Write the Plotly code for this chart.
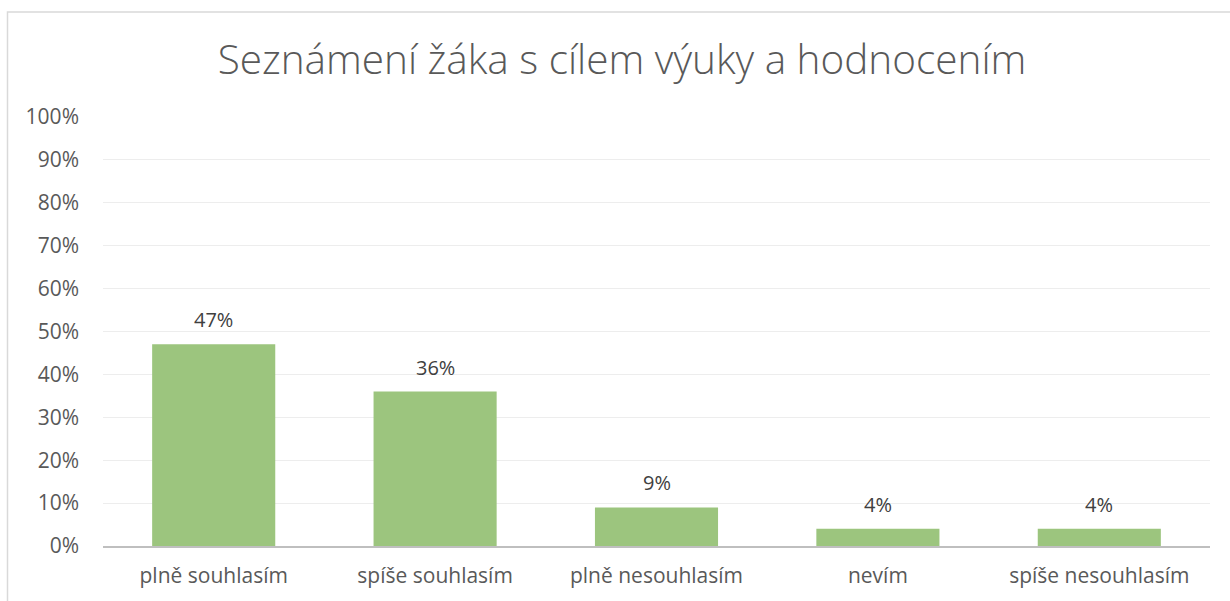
import plotly.graph_objects as go

categories = ["plně souhlasím", "spíše souhlasím", "plně nesouhlasím", "nevím", "spíše nesouhlasím"]
values = [0.47, 0.36, 0.09, 0.04, 0.04]
value_labels = ["47%", "36%", "9%", "4%", "4%"]
tick_values = [i / 10 for i in range(11)]
tick_labels = [f"{i*10}%" for i in range(11)]

FONT = "Open Sans"
bar_color = "#9CC57E"

W, H = 1230, 601
L, R, T, B = 103, 1230 - 1210, 117, 601 - 546
PW, PH = W - L - R, H - T - B

fig = go.Figure()
fig.add_trace(go.Bar(x=categories, y=values, marker=dict(color=bar_color, line=dict(width=0)),
                     width=0.556, hoverinfo="skip"))

for c, v, t in zip(categories, values, value_labels):
    fig.add_annotation(x=c, y=v, text=t, showarrow=False, yanchor="bottom", yshift=9,
                       font=dict(family=FONT, size=20, color="#404040"))

fig.update_layout(
    width=W, height=H,
    margin=dict(l=L, r=R, t=T, b=B),
    paper_bgcolor="white", plot_bgcolor="white",
    showlegend=False,
    title=dict(text="Seznámení žáka s cílem výuky a hodnocením", x=622 / W, xanchor="center",
               y=1 - 60 / H, yanchor="middle",
               font=dict(family=FONT, size=40.5, color="#595959", weight=300)),
    xaxis=dict(showgrid=False, showline=True, linecolor="#BFBFBF", linewidth=2,
               ticks="", tickfont=dict(family=FONT, size=21, color="#595959"),
               ticklabelstandoff=10, fixedrange=True),
    yaxis=dict(range=[0, 1], tickvals=tick_values, ticktext=tick_labels,
               showgrid=True, gridcolor="#EDEDED", gridwidth=1.3, zeroline=False,
               showline=False, ticks="", ticklabelstandoff=23,
               tickfont=dict(family=FONT, size=21, color="#595959"), fixedrange=True),
    shapes=[dict(type="rect", xref="paper", yref="paper",
                 x0=(7.5 - L) / PW, x1=(1240 - L) / PW,
                 y0=-(B + 20) / PH, y1=(546 - 12) / PH,
                 line=dict(color="#D9D9D9", width=1.5), fillcolor="rgba(0,0,0,0)", layer="below")],
)

fig.write_html("out.html", config={"displayModeBar": False},
               post_script="document.body.style.margin='0px';document.body.style.padding='0px';")
